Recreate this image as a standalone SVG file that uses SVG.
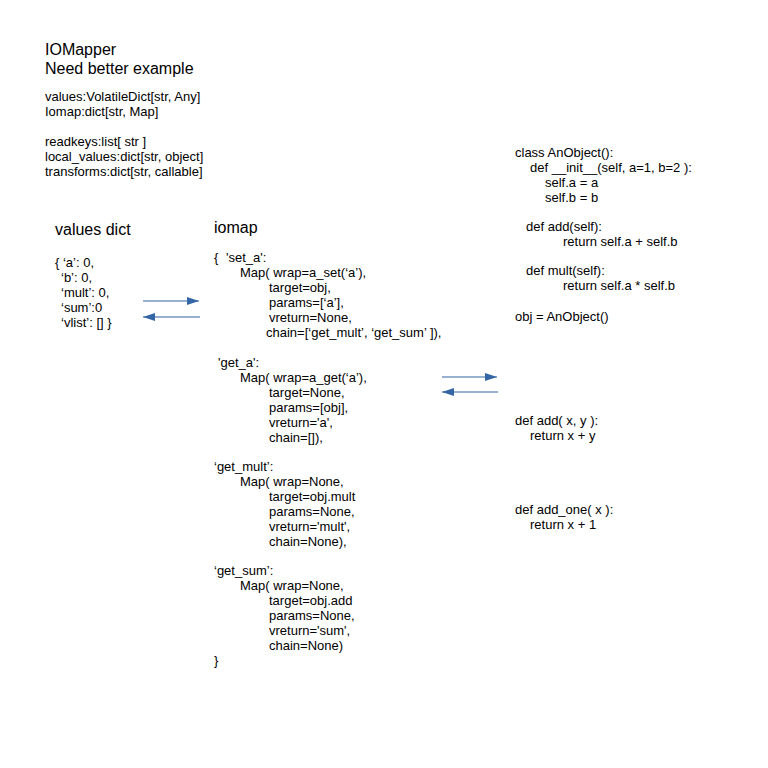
<svg xmlns="http://www.w3.org/2000/svg" width="768" height="768" viewBox="0 0 768 768">
  <style>
    text { font-family: "Liberation Sans", Arial, sans-serif; fill: #000; }
    .t { font-size: 16px; }
    .b { font-size: 13px; }
    .arrow { stroke: #3465a4; stroke-width: 1.2; fill: none; }
  </style>
  <defs>
    <marker id="head" viewBox="0 0 12 8" refX="12" refY="4" markerWidth="12" markerHeight="8" markerUnits="userSpaceOnUse" orient="auto">
      <path d="M0,0 L12,4 L0,8 Z" fill="#3465a4"/>
    </marker>
  </defs>
  <rect width="768" height="768" fill="#fff"/>

  <g id="header">
    <text class="t" x="45" y="55">IOMapper</text>
    <text class="t" x="45" y="74">Need better example</text>
    <text class="b" x="45" y="101">values:VolatileDict[str, Any]</text>
    <text class="b" x="45" y="116">Iomap:dict[str, Map]</text>
    <text class="b" x="45" y="146">readkeys:list[ str ]</text>
    <text class="b" x="45" y="161">local_values:dict[str, object]</text>
    <text class="b" x="45" y="176">transforms:dict[str, callable]</text>
  </g>

  <g id="values-dict">
    <text class="t" x="55" y="235">values dict</text>
    <text class="b" x="55" y="267">{ ‘a’: 0,</text>
    <text class="b" x="61" y="282">‘b’: 0,</text>
    <text class="b" x="61" y="297">‘mult’: 0,</text>
    <text class="b" x="61" y="312">‘sum’:0</text>
    <text class="b" x="61" y="327">‘vlist’: [] }</text>
  </g>

  <g id="iomap">
    <text class="t" x="214" y="233">iomap</text>
    <text class="b" x="214" y="262">{</text>
    <text class="b" x="226" y="262">'set_a':</text>
    <text class="b" x="240" y="277">Map( wrap=a_set(‘a’),</text>
    <text class="b" x="269" y="292">target=obj,</text>
    <text class="b" x="269" y="307">params=[‘a’],</text>
    <text class="b" x="269" y="322">vreturn=None,</text>
    <text class="b" x="266" y="337">chain=[‘get_mult’, ‘get_sum’ ]),</text>

    <text class="b" x="218" y="367">'get_a':</text>
    <text class="b" x="240" y="382">Map( wrap=a_get(‘a’),</text>
    <text class="b" x="269" y="397">target=None,</text>
    <text class="b" x="269" y="412">params=[obj],</text>
    <text class="b" x="269" y="427">vreturn='a',</text>
    <text class="b" x="269" y="442">chain=[]),</text>

    <text class="b" x="214" y="471">‘get_mult’:</text>
    <text class="b" x="240" y="486">Map( wrap=None,</text>
    <text class="b" x="269" y="501">target=obj.mult</text>
    <text class="b" x="269" y="516">params=None,</text>
    <text class="b" x="269" y="531">vreturn='mult',</text>
    <text class="b" x="269" y="546">chain=None),</text>

    <text class="b" x="214" y="575">‘get_sum’:</text>
    <text class="b" x="240" y="590">Map( wrap=None,</text>
    <text class="b" x="269" y="605">target=obj.add</text>
    <text class="b" x="269" y="620">params=None,</text>
    <text class="b" x="269" y="635">vreturn='sum',</text>
    <text class="b" x="269" y="650">chain=None)</text>
    <text class="b" x="214" y="665">}</text>
  </g>

  <g id="anobject">
    <text class="b" x="515" y="157">class AnObject():</text>
    <text class="b" x="530" y="172">def __init__(self, a=1, b=2 ):</text>
    <text class="b" x="545" y="187">self.a = a</text>
    <text class="b" x="545" y="202">self.b = b</text>
    <text class="b" x="526" y="231">def add(self):</text>
    <text class="b" x="563" y="246">return self.a + self.b</text>
    <text class="b" x="526" y="275">def mult(self):</text>
    <text class="b" x="563" y="290">return self.a * self.b</text>
    <text class="b" x="515" y="321">obj = AnObject()</text>
  </g>

  <g id="add-fn">
    <text class="b" x="515" y="425">def add( x, y ):</text>
    <text class="b" x="530" y="440">return x + y</text>
  </g>

  <g id="add-one-fn">
    <text class="b" x="515" y="514">def add_one( x ):</text>
    <text class="b" x="530" y="529">return x + 1</text>
  </g>

  <g id="connectors">
    <line class="arrow" x1="143" y1="301" x2="199" y2="301" marker-end="url(#head)"/>
    <line class="arrow" x1="200" y1="317" x2="143" y2="317" marker-end="url(#head)"/>
    <line class="arrow" x1="442" y1="377" x2="497" y2="377" marker-end="url(#head)"/>
    <line class="arrow" x1="498" y1="392" x2="442" y2="392" marker-end="url(#head)"/>
  </g>
</svg>
